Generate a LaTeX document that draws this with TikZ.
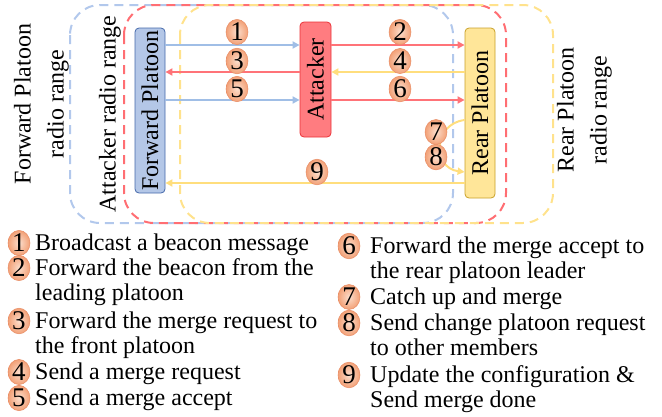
\documentclass[tikz,border=0pt]{standalone}
\usepackage{fontspec}
\usepackage{graphicx}
\setmainfont{Liberation Serif}
\usetikzlibrary{arrows.meta,shapes.geometric}

\definecolor{fpfill}{RGB}{180,199,231}
\definecolor{fpline}{RGB}{68,104,170}
\definecolor{atfill}{RGB}{255,124,128}
\definecolor{atline}{RGB}{235,50,55}
\definecolor{rpfill}{RGB}{255,230,153}
\definecolor{rpline}{RGB}{200,160,40}
\definecolor{bline}{RGB}{160,190,230}
\definecolor{rline}{RGB}{255,115,120}
\definecolor{yline}{RGB}{255,222,125}
\definecolor{bdash}{RGB}{178,200,236}
\definecolor{rdash}{RGB}{255,110,115}
\definecolor{ydash}{RGB}{255,226,140}
\definecolor{numin}{RGB}{252,222,204}
\definecolor{numout}{RGB}{242,160,118}
\definecolor{numline}{RGB}{232,140,100}

\begin{document}
\begin{tikzpicture}[x=1pt,y=-1pt,
  radiozone/.style={line width=2pt, dash pattern=on 9pt off 6pt, rounded corners=30pt},
  pbox/.style={rounded corners=4pt, line width=0.8pt, inner sep=0pt,
    font=\fontsize{24}{26}\selectfont},
  link/.style={line width=2pt, -{Triangle[length=7pt,width=7pt]}},
  barrow/.style={link, bline},
  rarrow/.style={link, rline},
  yarrow/.style={link, yline},
  num/.style={ellipse, minimum width=22pt, minimum height=23pt, inner sep=0pt,
    draw=numline, line width=0.5pt, inner color=numin, outer color=numout,
    font=\fontsize{27}{27}\selectfont},
  rangelabel/.style={rotate=90, align=center, inner sep=0pt,
    font=\fontsize{24}{33}\selectfont},
  leg/.style={anchor=north west, align=left, inner sep=0pt,
    font=\fontsize{24}{25.8}\selectfont}
]
\useasboundingbox (0,0) rectangle (662,416);

% radio ranges
\draw[radiozone, bdash] (70,5) rectangle (453,223);
\draw[radiozone, rdash] (124,5) rectangle (506,223);
\draw[radiozone, ydash] (180,5) rectangle (553,223);

% message rows
\coordinate (r1) at (0,45);
\coordinate (r3) at (0,72);
\coordinate (r5) at (0,100);
\coordinate (r9) at (0,183);
\coordinate (c7) at (0,120);
\coordinate (c8) at (0,172);

% vehicles
\node[pbox, fill=fpfill, draw=fpline, minimum width=30pt, minimum height=165pt]
  (fp) at (150,110.5) {\rotatebox{90}{Forward Platoon}};
\node[pbox, fill=atfill, draw=atline, minimum width=31pt, minimum height=115pt]
  (att) at (315.5,79.5) {\rotatebox{90}{Attacker}};
\node[pbox, fill=rpfill, draw=rpline, minimum width=30pt, minimum height=170pt]
  (rp) at (480,113) {\rotatebox{90}{Rear Platoon}};

% messages
\draw[barrow] (fp.east |- r1) -- (att.west |- r1);
\draw[rarrow] (att.west |- r3) -- (fp.east |- r3);
\draw[barrow] (fp.east |- r5) -- (att.west |- r5);
\draw[rarrow] (att.east |- r1) -- (rp.west |- r1);
\draw[yarrow] (rp.west |- r3) -- (att.east |- r3);
\draw[rarrow] (att.east |- r5) -- (rp.west |- r5);
\draw[yarrow] (rp.west |- r9) -- (fp.east |- r9);
\draw[yarrow] (rp.west |- c7) .. controls +(-32,4) and +(-32,-4) .. (rp.west |- c8);

% step numbers
\node[num] (n1) at (237,32) {1};
\node[num] (n3) at (237,61) {3};
\node[num] (n5) at (237,89) {5};
\node[num] (n2) at (400,32) {2};
\node[num] (n4) at (400,61) {4};
\node[num] (n6) at (400,89) {6};
\node[num] (n7) at (436,132) {7};
\node[num] (n8) at (436,157) {8};
\node[num] (n9) at (317,172) {9};

% range labels
\node[rangelabel] (fpr) at (41.5,104) {Forward Platoon\\radio range};
\node[rangelabel] (atr) at (110,114) {Attacker radio range};
\node[rangelabel] (rpr) at (584.5,110) {Rear Platoon\\radio range};

% legend, left column
\node[num] (l1) at (19,243) {1};
\node[leg] (t1) at (35,231.9) {\strut Broadcast a beacon message};
\node[num] (l2) at (19,268) {2};
\node[leg] (t2) at (35,256.9) {\strut Forward the beacon from the\\leading platoon};
\node[num] (l3) at (19,321) {3};
\node[leg] (t3) at (35,309.9) {\strut Forward the merge request to\\the front platoon};
\node[num] (l4) at (19,372) {4};
\node[leg] (t4) at (35,360.9) {\strut Send a merge request};
\node[num] (l5) at (19,398) {5};
\node[leg] (t5) at (35,386.9) {\strut Send a merge accept};

% legend, right column
\node[num] (l6) at (349,246) {6};
\node[leg] (t6) at (370,234.9) {\strut Forward the merge accept to\\the rear platoon leader};
\node[num] (l7) at (349,297) {7};
\node[leg] (t7) at (370,285.9) {\strut Catch up and merge};
\node[num] (l8) at (349,323) {8};
\node[leg] (t8) at (370,311.9) {\strut Send change platoon request\\to other members};
\node[num] (l9) at (349,375) {9};
\node[leg] (t9) at (370,363.9) {\strut Update the configuration \&\\Send merge done};
\end{tikzpicture}
\end{document}
